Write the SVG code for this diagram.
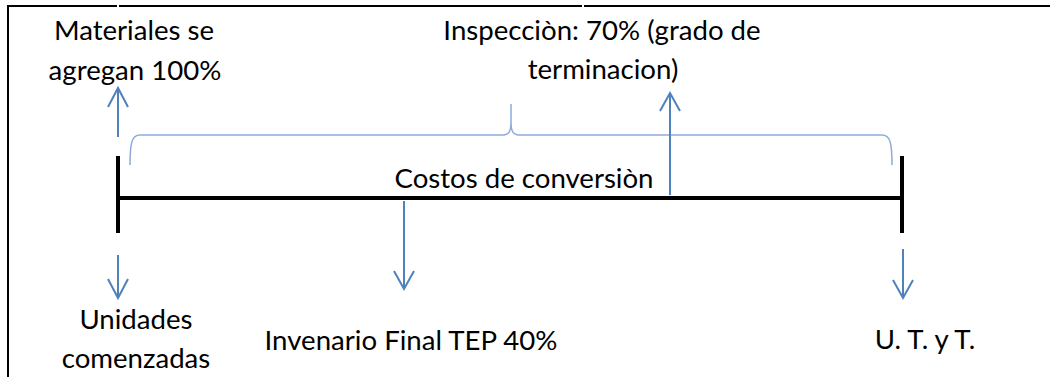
<svg xmlns="http://www.w3.org/2000/svg" width="1050" height="377" viewBox="0 0 1050 377">
<style>
.t{font-family:Lato,"Liberation Sans",sans-serif;font-size:27.6px;fill:#000;text-anchor:middle}
.frame{stroke:#000;stroke-width:2;fill:none}
.axis{stroke:#000;stroke-width:4;fill:none}
.arr{stroke:#4f81bd;stroke-width:2;fill:none}
.brace{stroke:#8eaadb;stroke-width:1.5;fill:none}
</style>
<rect width="1050" height="377" fill="#fff"/>
<g id="frame">
<path class="frame" d="M8,377 V6 H117 M119,6 H582 M584,6 H1050"/>
</g>
<g id="timeline">
<path class="axis" d="M118,156 V233 M902,156 V233 M118,198 H902"/>
</g>
<g id="brace">
<path class="brace" d="M130,165 C130,142 132,135 140,135 L503,135 C509,135 511,131 511,122 L511,104 M511,122 C511,131 513,135 519,135 L882,135 C890,135 892,142 892,165"/>
</g>
<g id="connectors">
<path class="arr" d="M118,137 V88 M108,107 L118,88 L128,107"/>
<path class="arr" d="M118,255 V298 M108,279 L118,298 L128,279"/>
<path class="arr" d="M404,201 V289 M394,271 L404,289 L414,271"/>
<path class="arr" d="M903,249 V298 M893,280 L903,298 L913,280"/>
<path class="arr" d="M670,195 V93 M660,111 L670,93 L680,111"/>
</g>
<g id="node-materiales">
<text class="t" x="134" y="40">Materiales se</text>
<text class="t" x="135" y="80">agregan 100%</text>
</g>
<g id="node-inspeccion">
<text class="t" x="602" y="40">Inspecciòn: 70% (grado de</text>
<text class="t" x="603" y="79">terminacion)</text>
</g>
<g id="node-costos">
<text class="t" x="524" y="188">Costos de conversiòn</text>
</g>
<g id="node-unidades">
<text class="t" x="136" y="329">Unidades</text>
<text class="t" x="136" y="368">comenzadas</text>
</g>
<g id="node-inventario">
<text class="t" x="411" y="350">Invenario Final TEP 40%</text>
</g>
<g id="node-uty">
<text class="t" x="925" y="349">U. T. y T.</text>
</g>
</svg>
